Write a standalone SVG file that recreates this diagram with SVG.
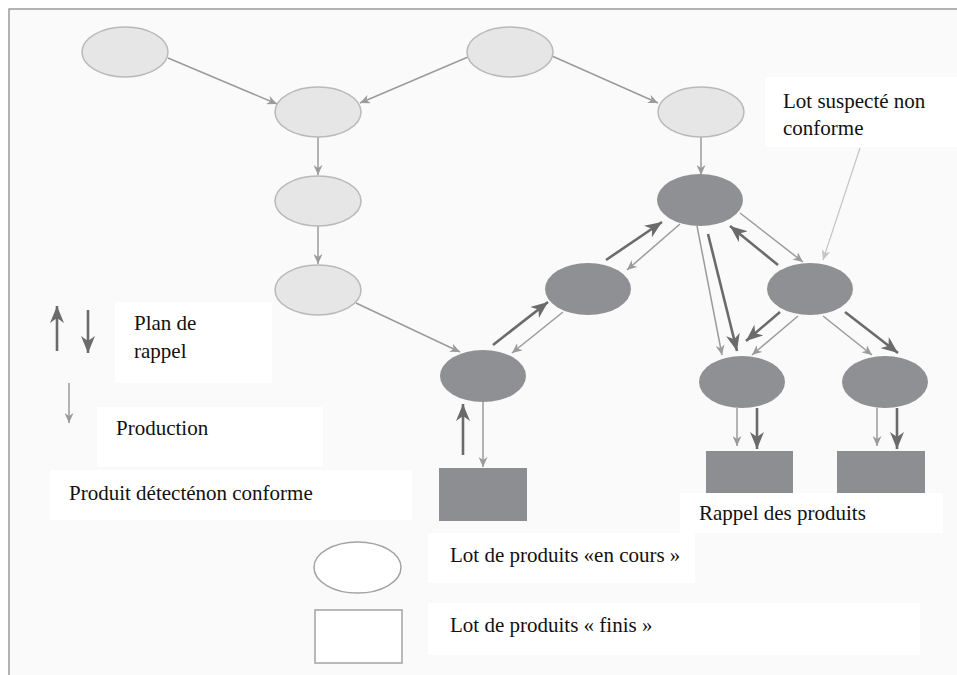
<svg xmlns="http://www.w3.org/2000/svg" width="957" height="675" viewBox="0 0 957 675">
  <defs>
    <marker id="headThin" markerUnits="userSpaceOnUse" markerWidth="11" markerHeight="9" refX="10" refY="4.5" orient="auto">
      <path d="M0,0 L10,4.5 L0,9 L3,4.5 z" fill="#9b9b9b"/>
    </marker>
    <marker id="headFaint" markerUnits="userSpaceOnUse" markerWidth="11" markerHeight="9" refX="10" refY="4.5" orient="auto">
      <path d="M0,0 L10,4.5 L0,9 L3,4.5 z" fill="#c4c4c4"/>
    </marker>
    <marker id="headThick" markerUnits="userSpaceOnUse" markerWidth="18" markerHeight="14" refX="17" refY="7" orient="auto">
      <path d="M0,0 L17,7 L0,14 L5,7 z" fill="#6b6b6b"/>
    </marker>
  </defs>
  <style>
    .frame { fill: #fafafa; stroke: #9a9a9a; stroke-width: 1.5; }
    .box { fill: #ffffff; stroke: none; }
    .lot { fill: #e6e6e6; stroke: #b9b9b9; stroke-width: 1.5; }
    .recall { fill: #8e9093; stroke: none; }
    .fini { fill: #8c8e91; stroke: none; }
    .legend { fill: #ffffff; stroke: #a3a3a3; stroke-width: 1.5; }
    .prod { stroke: #9b9b9b; stroke-width: 1.5; fill: none; marker-end: url(#headThin); }
    .note { stroke: #c4c4c4; stroke-width: 1.2; fill: none; marker-end: url(#headFaint); }
    .rap { stroke: #6b6b6b; stroke-width: 2.6; fill: none; marker-end: url(#headThick); }
    .lbl { font-family: 'Liberation Serif', 'DejaVu Serif', serif; font-size: 21px; fill: #111111; }
  </style>

  <!-- frame: top and left rules only -->
  <rect x="0" y="0" width="957" height="675" fill="#ffffff"/>
  <rect x="9" y="9" width="960" height="680" class="frame"/>

  <!-- white label backgrounds -->
  <g id="label-backgrounds">
    <rect class="box" x="765" y="77" width="192" height="70"/>
    <rect class="box" x="115" y="302" width="157" height="81"/>
    <rect class="box" x="97" y="407" width="226" height="60"/>
    <rect class="box" x="50" y="470" width="362" height="50"/>
    <rect class="box" x="428" y="533" width="267" height="50"/>
    <rect class="box" x="428" y="603" width="492" height="52"/>
  </g>

  <!-- connectors -->
  <g id="connectors">
    <!-- production flow -->
    <line class="prod" x1="168" y1="58" x2="277" y2="104"/>
    <line class="prod" x1="468" y1="57" x2="360" y2="103"/>
    <line class="prod" x1="552" y1="56" x2="658" y2="103"/>
    <line class="prod" x1="318" y1="137" x2="318" y2="175"/>
    <line class="prod" x1="318" y1="226" x2="318" y2="264"/>
    <line class="prod" x1="356" y1="303" x2="460" y2="352"/>
    <line class="prod" x1="701" y1="137" x2="701" y2="175"/>
    <line class="prod" x1="680" y1="224" x2="627" y2="270"/>
    <line class="prod" x1="563" y1="312" x2="512" y2="353"/>
    <line class="prod" x1="483" y1="402" x2="483" y2="467"/>
    <line class="prod" x1="697" y1="226" x2="722" y2="355"/>
    <line class="prod" x1="740" y1="213" x2="803" y2="262"/>
    <line class="prod" x1="798" y1="316" x2="752" y2="355"/>
    <line class="prod" x1="823" y1="316" x2="872" y2="355"/>
    <line class="prod" x1="737" y1="408" x2="737" y2="446"/>
    <line class="prod" x1="877" y1="408" x2="877" y2="446"/>
    <!-- annotation pointer -->
    <line class="note" x1="860" y1="148" x2="823" y2="260"/>
    <!-- recall plan -->
    <line class="rap" x1="463" y1="455" x2="463" y2="404"/>
    <line class="rap" x1="493" y1="345" x2="548" y2="302"/>
    <line class="rap" x1="606" y1="260" x2="662" y2="222"/>
    <line class="rap" x1="778" y1="265" x2="730" y2="226"/>
    <line class="rap" x1="708" y1="234" x2="737" y2="351"/>
    <line class="rap" x1="780" y1="312" x2="746" y2="341"/>
    <line class="rap" x1="845" y1="312" x2="898" y2="353"/>
    <line class="rap" x1="757" y1="408" x2="757" y2="449"/>
    <line class="rap" x1="897" y1="408" x2="897" y2="449"/>
    <!-- legend arrows -->
    <line class="rap" x1="57" y1="351" x2="57" y2="306"/>
    <line class="rap" x1="88" y1="310" x2="88" y2="353"/>
    <line class="prod" x1="69" y1="383" x2="69" y2="423"/>
  </g>

  <!-- production lots -->
  <g id="lot-a"><ellipse class="lot" cx="125" cy="52" rx="43" ry="25"/></g>
  <g id="lot-b"><ellipse class="lot" cx="318" cy="112" rx="43" ry="25"/></g>
  <g id="lot-c"><ellipse class="lot" cx="318" cy="201" rx="43" ry="25"/></g>
  <g id="lot-d"><ellipse class="lot" cx="318" cy="290" rx="43" ry="25"/></g>
  <g id="lot-e"><ellipse class="lot" cx="510" cy="52" rx="43" ry="25"/></g>
  <g id="lot-f"><ellipse class="lot" cx="701" cy="112" rx="43" ry="25"/></g>

  <!-- lots in the recall plan -->
  <g id="lot-g"><ellipse class="recall" cx="700" cy="200" rx="43" ry="26"/></g>
  <g id="lot-h"><ellipse class="recall" cx="588" cy="289" rx="43" ry="26"/></g>
  <g id="lot-i"><ellipse class="recall" cx="810" cy="289" rx="43" ry="26"/></g>
  <g id="lot-j"><ellipse class="recall" cx="483" cy="376" rx="43" ry="26"/></g>
  <g id="lot-k"><ellipse class="recall" cx="742" cy="382" rx="43" ry="26"/></g>
  <g id="lot-l"><ellipse class="recall" cx="885" cy="382" rx="43" ry="26"/></g>

  <!-- finished product lots -->
  <g id="fini-1"><rect class="fini" x="439" y="468" width="88" height="53"/></g>
  <g id="fini-2"><rect class="fini" x="706" y="451" width="87" height="45"/></g>
  <g id="fini-3"><rect class="fini" x="837" y="451" width="88" height="45"/></g>

  <!-- label box that overlaps the finished lots -->
  <rect class="box" x="680" y="493" width="263" height="40"/>

  <!-- legend shapes -->
  <g id="legend-encours"><ellipse class="legend" cx="357.5" cy="567.5" rx="43.5" ry="25.5"/></g>
  <g id="legend-finis"><rect class="legend" x="315" y="610" width="87" height="53"/></g>

  <!-- labels -->
  <g id="labels">
    <text class="lbl" x="783" y="108">Lot suspecté non</text>
    <text class="lbl" x="783" y="135">conforme</text>
    <text class="lbl" x="134" y="330">Plan de</text>
    <text class="lbl" x="134" y="358">rappel</text>
    <text class="lbl" x="116" y="435">Production</text>
    <text class="lbl" x="69" y="500">Produit détecténon conforme</text>
    <text class="lbl" x="699" y="520">Rappel des produits</text>
    <text class="lbl" x="450" y="562">Lot de produits «en cours »</text>
    <text class="lbl" x="450" y="632">Lot de produits « finis »</text>
  </g>
</svg>
